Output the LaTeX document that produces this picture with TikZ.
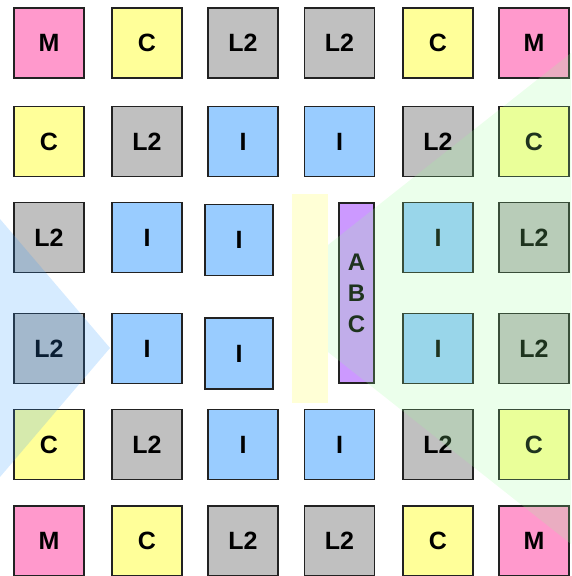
\documentclass[tikz,border=0pt]{standalone}
\usepackage{fontspec}
\setmainfont{Liberation Sans}
\definecolor{mpink}{HTML}{FF99CC}
\definecolor{cyel}{HTML}{FFFF99}
\definecolor{lgrey}{HTML}{C0C0C0}
\definecolor{iblue}{HTML}{99CCFF}
\definecolor{apurp}{HTML}{CC99FF}
\definecolor{barcol}{HTML}{FFFFD6}
\definecolor{edge}{HTML}{222222}
\definecolor{ovblue}{HTML}{3399FF}
\definecolor{ovgreen}{HTML}{99FF99}
\tikzset{
  cell/.style={draw=edge, line width=1.4pt, minimum width=70pt, minimum height=70pt,
    inner sep=0pt, font=\fontsize{25}{29}\selectfont\bfseries},
  mc/.style={cell, fill=mpink},
  cc/.style={cell, fill=cyel},
  lc/.style={cell, fill=lgrey},
  ic/.style={cell, fill=iblue},
  icw/.style={cell, fill=iblue, minimum width=68pt, minimum height=71pt},
  abcbar/.style={draw=edge, line width=1.4pt, fill=apurp, minimum width=35pt, minimum height=180pt,
    inner sep=0pt, align=center, font=\fontsize{24}{31}\selectfont\bfseries},
  ybar/.style={fill=barcol, draw=none, minimum width=36pt, minimum height=209pt, inner sep=0pt},
  ovb/.style={fill=ovblue, fill opacity=0.2, draw=none},
  ovg/.style={fill=ovgreen, fill opacity=0.2, draw=none}
}
\begin{document}
\begin{tikzpicture}[x=1pt,y=-1pt]
\useasboundingbox (0,0) rectangle (571,576);
% row 1
\node[mc] (r1c1) at (49,43) {M};
\node[cc] (r1c2) at (147,43) {C};
\node[lc] (r1c3) at (243,43) {L2};
\node[lc] (r1c4) at (339.5,43) {L2};
\node[cc] (r1c5) at (438,43) {C};
\node[mc] (r1c6) at (534,43) {M};
% row 2
\node[cc] (r2c1) at (49,141.5) {C};
\node[lc] (r2c2) at (147,141.5) {L2};
\node[ic] (r2c3) at (243,141.5) {I};
\node[ic] (r2c4) at (339.5,141.5) {I};
\node[lc] (r2c5) at (438,141.5) {L2};
\node[cc] (r2c6) at (534,141.5) {C};
% row 3
\node[lc] (r3c1) at (49,237.5) {L2};
\node[ic] (r3c2) at (147,237.5) {I};
\node[icw] (r3c3) at (239,240) {I};
\node[ic] (r3c5) at (438,237.5) {I};
\node[lc] (r3c6) at (534,237.5) {L2};
% row 4
\node[lc] (r4c1) at (49,348.5) {L2};
\node[ic] (r4c2) at (147,348.5) {I};
\node[icw] (r4c3) at (239,353.5) {I};
\node[ic] (r4c5) at (438,348.5) {I};
\node[lc] (r4c6) at (534,348.5) {L2};
% row 5
\node[cc] (r5c1) at (49,444.5) {C};
\node[lc] (r5c2) at (147,444.5) {L2};
\node[ic] (r5c3) at (243,444.5) {I};
\node[ic] (r5c4) at (339.5,444.5) {I};
\node[lc] (r5c5) at (438,444.5) {L2};
\node[cc] (r5c6) at (534,444.5) {C};
% row 6
\node[mc] (r6c1) at (49,541) {M};
\node[cc] (r6c2) at (147,541) {C};
\node[lc] (r6c3) at (243,541) {L2};
\node[lc] (r6c4) at (339.5,541) {L2};
\node[cc] (r6c5) at (438,541) {C};
\node[mc] (r6c6) at (534,541) {M};
% centre bars
\node[ybar] (bar) at (310,298.5) {};
\node[abcbar] (abc) at (356.5,293) {A\\B\\C};
% translucent overlays
\fill[ovb] (0,219) -- (110,348) -- (0,477) -- cycle;
\fill[ovg] (328,245) -- (571,53) -- (571,544) -- (328,352) -- cycle;
\end{tikzpicture}
\end{document}
